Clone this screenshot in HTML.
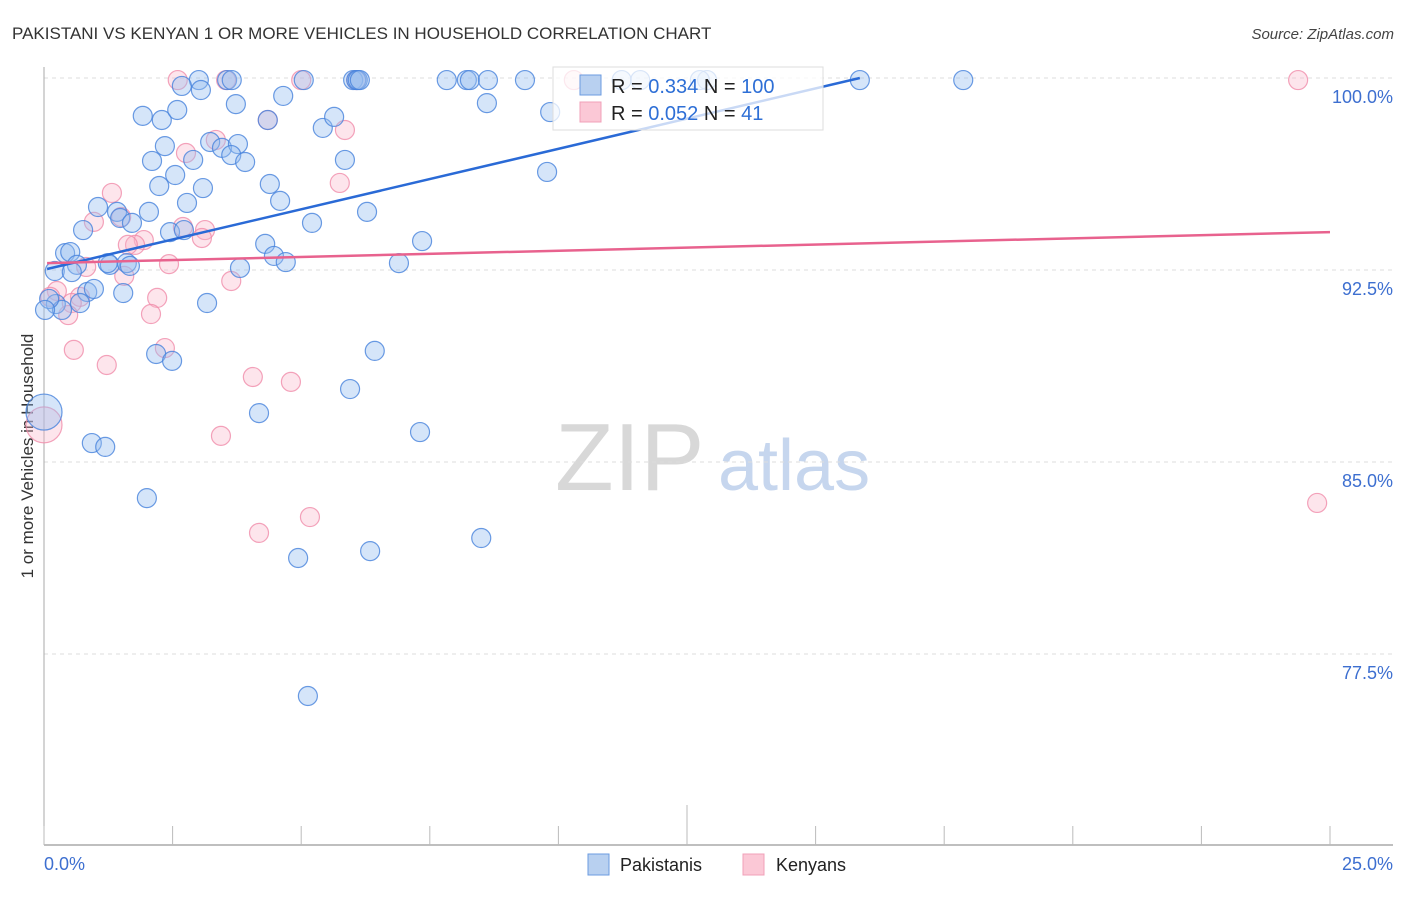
<!DOCTYPE html>
<html><head><meta charset="utf-8"><style>
body{margin:0;background:#fff;font-family:"Liberation Sans",sans-serif;}
svg text{font-family:"Liberation Sans",sans-serif;}
</style></head><body>
<svg id="chart" width="1406" height="892" viewBox="0 0 1406 892" xmlns="http://www.w3.org/2000/svg">
<text x="12" y="39" font-size="17" fill="#333">PAKISTANI VS KENYAN 1 OR MORE VEHICLES IN HOUSEHOLD CORRELATION CHART</text>
<text x="1394" y="39" font-size="15" fill="#444" text-anchor="end" font-style="italic">Source: ZipAtlas.com</text>
<text transform="translate(33,456) rotate(-90)" font-size="17" fill="#333" text-anchor="middle">1 or more Vehicles in Household</text>
<g>
<text x="555" y="490" font-size="96" fill="#d8d8d8" font-family="Liberation Serif, serif">ZIP</text>
<text x="718" y="490" font-size="72" fill="#c6d6ee">atlas</text>
</g>
<g id="grid"></g>
<g id="axes"></g>
<g id="pts"></g>
<g id="lines"></g>
<g>
<rect x="553" y="67" width="270" height="63" fill="rgba(255,255,255,0.75)" stroke="#ddd"/>
<rect x="580" y="75" width="21" height="20" fill="#b8d0f0" stroke="#6b9be0"/>
<text x="611" y="93" font-size="20" fill="#222">R = <tspan fill="#2e6fd6">0.334</tspan>   N = <tspan fill="#2e6fd6">100</tspan></text>
<rect x="580" y="102" width="21" height="20" fill="#fbc8d6" stroke="#f0a0b8"/>
<text x="611" y="120" font-size="20" fill="#222">R = <tspan fill="#2e6fd6">0.052</tspan>   N = <tspan fill="#2e6fd6">  41</tspan></text>
</g>
<g>
<rect x="588" y="854" width="21" height="21" fill="#b8d0f0" stroke="#6b9be0"/>
<text x="620" y="871" font-size="18" fill="#222">Pakistanis</text>
<rect x="743" y="854" width="21" height="21" fill="#fbc8d6" stroke="#f0a0b8"/>
<text x="776" y="871" font-size="18" fill="#222">Kenyans</text>
</g>
</svg>
<script>
const xTicks=[0,2.5,5,7.5,10,12.5,15,17.5,20,22.5,25];
const yTicks=[100,92.5,85,77.5];
const yTickLabels=["100.0%","92.5%","85.0%","77.5%"];
const xEndLabels=["0.0%","25.0%"];
const pakX=[3.01,3.56,3.65,5.05,6.01,6.07,6.10,6.14,7.83,8.22,8.28,8.63,9.35,11.23,12.89,15.86,17.87,11.59,12.75,
2.68,3.05,3.73,4.65,1.92,2.29,2.59,8.61,9.84,4.35,5.42,5.64,2.35,3.23,3.46,3.77,3.64,2.90,2.10,3.91,5.85,9.78,2.55,2.24,3.09,4.39,2.78,4.59,1.05,1.42,2.04,1.48,1.71,6.28,5.21,0.76,2.45,2.72,0.41,0.51,4.30,7.35,0.64,1.28,1.24,1.61,1.67,4.47,4.70,3.81,6.90,0.21,0.54,0.84,0.97,1.54,0.70,0.23,0.35,0.10,3.17,0.02,2.18,2.49,6.43,5.95,4.18,0.93,1.19,7.31,2.00,6.34,8.50,4.94,5.13,0.00];
const pakY=[99.92,99.92,99.92,99.92,99.92,99.92,99.92,99.92,99.92,99.92,99.92,99.92,99.92,99.92,99.92,99.92,99.92,99.92,99.92,
99.69,99.53,98.98,99.30,98.52,98.36,98.75,99.02,98.67,98.36,98.05,98.48,97.34,97.50,97.27,97.42,96.99,96.80,96.76,96.72,96.80,96.33,96.21,95.78,95.70,95.86,95.12,95.20,94.96,94.77,94.77,94.53,94.34,94.77,94.34,94.06,93.98,94.06,93.16,93.20,93.52,93.63,92.70,92.70,92.77,92.77,92.66,93.05,92.81,92.58,92.77,92.46,92.42,91.64,91.76,91.60,91.21,91.17,90.94,91.37,91.21,90.94,89.22,88.95,89.34,87.85,86.91,85.74,85.59,86.17,83.59,81.52,82.03,81.25,75.86,86.95];
const kenX=[2.60,3.54,5.00,6.07,10.30,24.38,4.35,5.85,2.76,3.34,5.75,1.32,0.97,1.50,2.70,3.13,3.07,1.94,1.77,1.63,0.82,2.43,1.56,3.64,0.25,0.12,0.70,0.54,0.47,2.20,2.08,0.58,1.22,2.35,4.06,4.80,3.44,4.18,5.17,24.75,0.00];
const kenY=[99.92,99.92,99.92,99.92,99.92,99.92,98.36,97.97,97.07,97.58,95.90,95.51,94.38,94.57,94.18,94.06,93.75,93.67,93.48,93.48,92.62,92.73,92.27,92.07,91.68,91.45,91.45,91.21,90.74,91.41,90.78,89.38,88.79,89.45,88.32,88.13,86.02,82.23,82.85,83.40,86.45];
const pakTrend=[[0.06,92.54],[15.86,100]];
const kenTrend=[[0.06,92.77],[25,93.98]];

const NS="http://www.w3.org/2000/svg";
const X0=44,X1=1330,Y100=78,PXPER=192/7.5;
function sx(v){return X0+(v/25)*(X1-X0);}
function sy(v){return Y100+(100-v)*PXPER;}
function mk(tag,attrs,parent){const e=document.createElementNS(NS,tag);for(const k in attrs)e.setAttribute(k,attrs[k]);parent.appendChild(e);return e;}
const grid=document.getElementById('grid'),axes=document.getElementById('axes'),pts=document.getElementById('pts'),lines=document.getElementById('lines');
yTicks.forEach((t,i)=>{
 const l=mk('line',{x1:X0,x2:1393,y1:sy(t),y2:sy(t),stroke:'#ddd','stroke-dasharray':'4,4'},grid);
 
 
 const tx=mk('text',{x:1393,y:sy(t)+25,'font-size':18,fill:'#3d6fd0','text-anchor':'end'},grid);
 tx.textContent=yTickLabels[i];
 
 
});
const ya=mk('line',{x1:X0,x2:X0,y1:67,y2:845,stroke:'#aaa'},axes);


const xa=mk('line',{x1:X0,x2:1393,y1:845,y2:845,stroke:'#aaa','stroke-width':1.5},axes);


xTicks.forEach((t,i)=>{
 const tk=mk('line',{x1:sx(t),x2:sx(t),y1:(i===5?805:826),y2:845,stroke:'#bbb'},axes);
 
 
});
[[0,'start'],[25,'end']].forEach((p,i)=>{
 const tx=mk('text',{x:i===0?44:1393,y:870,'font-size':18,fill:'#3d6fd0','text-anchor':p[1]},axes);
 tx.textContent=xEndLabels[i];
 
 
});
function drawPts(xs,ys,fill,stroke,name){
 xs.forEach((v,i)=>{
  const big=(v===0);
  const c=mk('circle',{cx:sx(v),cy:sy(ys[i]),r:big?18:9.5,fill:fill,stroke:stroke,'stroke-width':1.2},pts);
  
  
 });
}
drawPts(kenX,kenY,'rgba(248,180,200,0.35)','rgba(240,140,170,0.8)','kenyan-point');
drawPts(pakX,pakY,'rgba(150,190,240,0.4)','rgba(70,130,220,0.8)','pakistani-point');
const l1=mk('line',{x1:sx(pakTrend[0][0]),y1:sy(pakTrend[0][1]),x2:sx(pakTrend[1][0]),y2:sy(pakTrend[1][1]),stroke:'#2a6ad6','stroke-width':2.5},lines);


const l2=mk('line',{x1:sx(kenTrend[0][0]),y1:sy(kenTrend[0][1]),x2:sx(kenTrend[1][0]),y2:sy(kenTrend[1][1]),stroke:'#e8628e','stroke-width':2.5},lines);


</script>
</body></html>
